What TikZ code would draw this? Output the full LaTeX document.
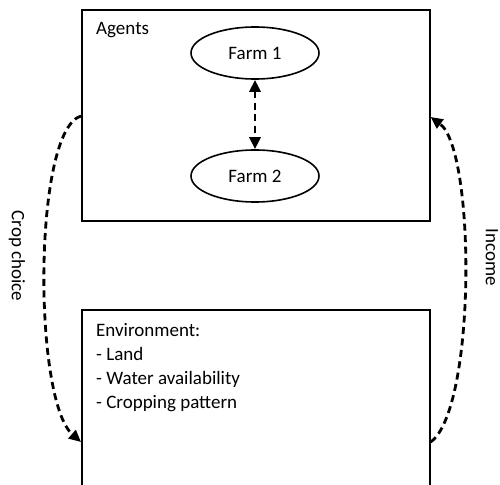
\documentclass[tikz,border=0pt]{standalone}
\usepackage{fontspec}
\setmainfont{Carlito}
\usetikzlibrary{arrows.meta,shapes.geometric}
\begin{document}
\begin{tikzpicture}[x=1pt,y=-1pt,
  txt/.style={font=\fontsize{19}{24}\selectfont, inner sep=0pt},
  boxframe/.style={draw, line width=1.6pt},
  farm/.style={draw, line width=1.6pt, ellipse, minimum width=128pt, minimum height=52pt, inner sep=0pt, font=\fontsize{19}{24}\selectfont},
  flow/.style={line width=2.8pt, dash pattern=on 7pt off 4.5pt, -{Triangle[length=12pt,width=11pt]}},
  flow2/.style={line width=2.8pt, dash pattern=on 7pt off 4.5pt, {Triangle[length=12pt,width=11pt]}-{Triangle[length=12pt,width=11pt]}}]
\useasboundingbox (0,0) rectangle (500,484);
\clip (0,0) rectangle (500,484);
\node[boxframe, anchor=north west, minimum width=348pt, minimum height=211pt, inner sep=0pt] (agents) at (81,9) {};
\node[boxframe, anchor=north west, minimum width=348pt, minimum height=211pt, inner sep=0pt] (env) at (81,309) {};
\node[txt, anchor=base west] (agl) at (96,35) {Agents};
\node[farm] (f1) at (255,53) {Farm 1};
\node[farm] (f2) at (255,176) {Farm 2};
\draw[flow2] (f1.south) -- (f2.north);
\node[txt, anchor=north west, align=left] (envl) at (96,323) {Environment:\\- Land\\- Water availability\\- Cropping pattern};
\coordinate (a1) at (agents.west |- 0,116);
\coordinate (e1) at (env.west |- 0,442);
\coordinate (e2) at (env.east |- 0,442);
\coordinate (a2) at (agents.east |- 0,117);
\draw[flow] (a1) .. controls (33,130) and (33,400) .. (e1);
\draw[flow] (e2) .. controls (476,410) and (476,150) .. (a2);
\node[txt, rotate=-90] (crop) at (17,256) {Crop choice};
\node[txt, rotate=-90] (inc) at (492,257) {Income};
\end{tikzpicture}
\end{document}
